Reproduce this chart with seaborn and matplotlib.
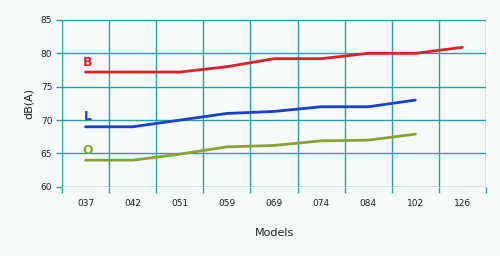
import matplotlib
matplotlib.use("Agg")
import matplotlib.pyplot as plt
import seaborn as sns
import pandas as pd
import numpy as np

models = ["037", "042", "051", "059", "069", "074", "084", "102", "126"]
b_values = [77.2, 77.2, 77.2, 78.0, 79.2, 79.2, 80.0, 80.0, 80.9]
l_values = [69.0, 69.0, 70.0, 71.0, 71.3, 72.0, 72.0, 73.0]
o_values = [64.0, 64.0, 64.9, 66.0, 66.2, 66.9, 67.0, 67.9]
series_names = ["B", "L", "O"]
colors = {"B": "#e0202a", "L": "#1840d0", "O": "#8aa233"}
y_ticks = [60, 65, 70, 75, 80, 85]

rows = []
for name, vals in zip(series_names, [b_values, l_values, o_values]):
    for i, v in enumerate(vals):
        rows.append({"series": name, "pos": i, "value": v})
df = pd.DataFrame(rows)

sns.set_style("white")
plt.rcParams["font.family"] = ["DejaVu Sans"]

fig = plt.figure(figsize=(5, 2.56), dpi=100, facecolor="#f6faf8")
ax = fig.add_axes([0.124, 0.27, 0.848, 0.652])
ax.set_facecolor("#f6faf8")

sns.lineplot(data=df, x="pos", y="value", hue="series", palette=colors,
             linewidth=2.0, legend=False, ax=ax)

grid_c = "#2aa0a6"
ax.set_xlim(-0.5, len(models) - 0.5)
ax.set_ylim(60, 85)
for xb in np.arange(-0.5, len(models), 1.0):
    ax.axvline(xb, color=grid_c, lw=1.0, zorder=0)
for yv in y_ticks:
    ax.axhline(yv, color=grid_c, lw=1.0, zorder=0)
for s in ax.spines.values():
    s.set_visible(False)

ax.set_yticks(y_ticks)
ax.set_yticklabels([str(t) for t in y_ticks], fontsize=6.5, color="#222222")
ax.set_xticks(range(len(models)))
ax.set_xticklabels(models, fontsize=6.5, color="#222222")
ax.set_xticks(np.arange(-0.5, len(models), 1.0), minor=True)
ax.tick_params(axis="x", which="major", bottom=True, length=0, pad=9)
ax.tick_params(axis="x", which="minor", bottom=True, length=4, color=grid_c,
               width=1, direction="out")
ax.tick_params(axis="y", left=True, length=4, color=grid_c, width=1, pad=3)

ax.set_xlabel("Models", fontsize=8, labelpad=14, color="#222222")
ax.set_ylabel("dB(A)", fontsize=8, labelpad=5, color="#222222")

label_y = {"B": b_values[0] + 1.5, "L": l_values[0] + 1.5, "O": o_values[0] + 1.5}
for name in series_names:
    ax.text(0.05, label_y[name], name, color=colors[name], fontsize=9,
            fontweight="bold", ha="center", va="center")

fig.savefig("out.png", dpi=100, facecolor=fig.get_facecolor())
